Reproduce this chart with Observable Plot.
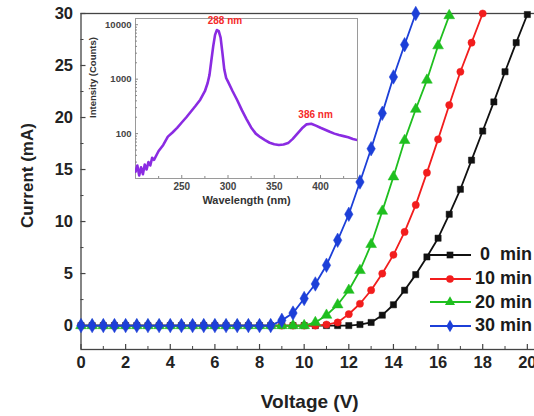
<!DOCTYPE html>
<html><head><meta charset="utf-8">
<script src="https://cdn.jsdelivr.net/npm/d3@7"></script>
<script src="https://cdn.jsdelivr.net/npm/@observablehq/plot@0.6"></script>
<style>
html,body{margin:0;padding:0;overflow:hidden;background:#fff;width:534px;height:416px}
#wrap{position:relative;width:534px;height:416px;overflow:hidden}
#main{position:absolute;left:0;top:0;width:545px}
#inset{position:absolute;left:80px;top:5px;width:285px}
#legend{position:absolute;left:428px;top:243px;font:bold 18px "Liberation Sans",Arial,sans-serif;color:#1a1a1a;width:130px}
.row{display:flex;align-items:center;height:23.7px;white-space:pre}
.row svg{display:block;margin-right:3px;flex:none}
.num{display:inline-block;width:20px;text-align:center}
</style></head><body>
<div id="wrap"><div id="main"></div><div id="inset"></div><div id="legend"></div></div>
<script>
// ---- main I-V data ----
const v0min = [0,0.5,1,1.5,2,2.5,3,3.5,4,4.5,5,5.5,6,6.5,7,7.5,8,8.5,9,9.5,10,10.5,11,11.5,12,12.5,13,13.5,14,14.5,15,15.5,16,16.5,17,17.5,18,18.5,19,19.5,20];
const i0min = [0,0,0,0,0,0,0,0,0,0,0,0,0,0,0,0,0,0,0,0,0,0,0,0,0,0.1,0.3,1.0,2.0,3.4,4.9,6.6,8.4,10.7,13.1,15.9,18.7,21.5,24.4,27.2,29.9];
const v10min = [0,0.5,1,1.5,2,2.5,3,3.5,4,4.5,5,5.5,6,6.5,7,7.5,8,8.5,9,9.5,10,10.5,11,11.5,12,12.5,13,13.5,14,14.5,15,15.5,16,16.5,17,17.5,18];
const i10min = [0,0,0,0,0,0,0,0,0,0,0,0,0,0,0,0,0,0,0,0,0,0,0.1,0.3,1.1,2.1,3.4,5.0,6.8,9.0,11.6,14.7,17.9,21.2,24.4,27.2,30.0];
const v20min = [0,0.5,1,1.5,2,2.5,3,3.5,4,4.5,5,5.5,6,6.5,7,7.5,8,8.5,9,9.5,10,10.5,11,11.5,12,12.5,13,13.5,14,14.5,15,15.5,16,16.5];
const i20min = [0,0,0,0,0,0,0,0,0,0,0,0,0,0,0,0,0,0,0,0,0,0.3,1.0,2.0,3.4,5.3,7.8,11.0,14.3,17.8,20.8,23.6,26.9,29.8];
const v30min = [0,0.5,1,1.5,2,2.5,3,3.5,4,4.5,5,5.5,6,6.5,7,7.5,8,8.5,9,9.5,10,10.5,11,11.5,12,12.5,13,13.5,14,14.5,15];
const i30min = [0,0,0,0,0,0,0,0,0,0,0,0,0,0,0,0,0,0,0.5,1.2,2.6,4.0,5.8,8.2,10.7,13.8,17.0,20.4,23.9,27.0,30.0];

const seriesNums = ["0", "10", "20", "30"];
const seriesUnit = " min";
const seriesColors = ["#111111", "#f21d1d", "#1fbf1f", "#1c3fd8"];
const seriesSymbols = ["square", "circle", "triangle", "diamond"];

const xMajor = [0,2,4,6,8,10,12,14,16,18,20];
const xMinor = [1,3,5,7,9,11,13,15,17,19];
const yMajor = [0,5,10,15,20,25,30];
const yMinor = [2.5,7.5,12.5,17.5,22.5,27.5];

// ---- inset spectrum data ----
const wavelength = [200,202,204,206,208,210,212,214,216,218,220,225,230,235,240,245,250,255,260,265,270,275,278,280,282,284,286,288,290,292,294,296,298,300,305,310,315,320,325,330,335,340,345,350,355,360,365,370,375,380,385,390,395,400,405,410,415,420,425,430,435,440];
const counts = [20,26,17,24,18,27,22,30,26,36,33,48,62,88,105,128,160,200,255,325,420,600,850,1200,2200,4000,6500,8000,7600,5800,3000,1500,1050,900,600,410,270,185,130,100,86,76,68,64,62,63,67,80,100,125,148,152,140,128,118,108,100,94,90,86,80,76];
const peakNm = [288, 386];
const peakCounts = [8000, 152];
const peakText = ["288 nm", "386 nm"];
const insetXMajor = [250,300,350,400];
const insetXMinor = [225,275,325,375,425];
const insetYMajor = [100,1000,10000];
const insetYMinor = [20,30,40,50,60,70,80,90,200,300,400,500,600,700,800,900,2000,3000,4000,5000,6000,7000,8000,9000];

// ---- build main ----
const vs = [v0min, v10min, v20min, v30min];
const is = [i0min, i10min, i20min, i30min];
const table = [];
vs.forEach((v, s) => v.forEach((x, k) => table.push({s, V: x, I: is[s][k]})));

const W = 545, H = 416, ML = 80.5, MR = 7, MT = 13, MB = 67;
const FW = W - ML - MR, FH = H - MT - MB;
const font = "Liberation Sans, Arial, sans-serif";
const axisCol = "#444";

const marks = [
  Plot.frame({stroke: axisCol, strokeWidth: 1.3}),
  Plot.tickX(xMajor, {x: d => d, insetTop: FH - 5, stroke: axisCol, strokeWidth: 1.2}),
  Plot.tickX(xMinor, {x: d => d, insetTop: FH - 3, stroke: axisCol, strokeWidth: 1}),
  Plot.tickY(yMajor, {y: d => d, insetRight: FW - 5, stroke: axisCol, strokeWidth: 1.2}),
  Plot.tickY(yMinor, {y: d => d, insetRight: FW - 3, stroke: axisCol, strokeWidth: 1}),
  Plot.axisX({ticks: xMajor, tickSize: 0, tickPadding: 7, fontSize: 16.5, fontWeight: "bold", fill: "#222", label: null}),
  Plot.axisY({ticks: yMajor, tickSize: 0, tickPadding: 8, fontSize: 16.5, fontWeight: "bold", fill: "#222", label: null}),
  Plot.text(["Voltage (V)"], {text: d => d, frameAnchor: "bottom", textAnchor: "middle", lineAnchor: "middle", dy: 52, fontSize: 19, fontWeight: "bold", fill: "#222"}),
  Plot.text(["Current (mA)"], {text: d => d, frameAnchor: "left", textAnchor: "middle", lineAnchor: "middle", rotate: -90, dx: -53, dy: -6, fontSize: 17, fontWeight: "bold", fill: "#222"})
];
for (let s = 0; s < 4; s++) {
  const d = table.filter(t => t.s === s);
  marks.push(Plot.line(d, {x: "V", y: "I", stroke: seriesColors[s], strokeWidth: 1.8}));
  marks.push(Plot.dot(d, {x: "V", y: "I", fill: seriesColors[s], stroke: seriesColors[s], strokeWidth: 0.5, symbol: () => seriesSymbols[s], r: [3.5, 3.6, 4, 4.4][s]}));
}

const mainPlot = Plot.plot({
  width: W, height: H, marginLeft: ML, marginRight: MR, marginTop: MT, marginBottom: MB,
  style: {fontFamily: font, background: "transparent", overflow: "visible", maxWidth: "none"},
  x: {domain: [0, 20.5]},
  y: {domain: [-2.3, 30]},
  symbol: {type: "identity"},
  marks
});
document.getElementById("main").appendChild(mainPlot);

// ---- inset ----
const spec = wavelength.map((w, k) => ({w, c: counts[k]}));
const peaks = peakNm.map((w, k) => ({w, c: peakCounts[k], t: peakText[k]}));
const IW = 285, IH = 205, IML = 55, IMR = 8, IMT = 13, IMB = 32;
const IFW = IW - IML - IMR, IFH = IH - IMT - IMB;
const inCol = "#888";
const insetPlot = Plot.plot({
  width: IW, height: IH, marginLeft: IML, marginRight: IMR, marginTop: IMT, marginBottom: IMB,
  style: {fontFamily: font, background: "transparent", overflow: "visible", maxWidth: "none"},
  x: {domain: [200, 440]},
  y: {type: "log", domain: [15, 13000]},
  marks: [
    Plot.frame({fill: "white", stroke: "#9a9a9a", strokeWidth: 1}),
    Plot.tickX(insetXMajor, {x: d => d, insetTop: IFH - 3, stroke: inCol}),
    Plot.tickX(insetXMinor, {x: d => d, insetTop: IFH - 2, stroke: inCol}),
    Plot.tickY(insetYMajor, {y: d => d, insetRight: IFW - 3, stroke: inCol}),
    Plot.tickY(insetYMinor, {y: d => d, insetRight: IFW - 2, stroke: inCol}),
    Plot.line(spec, {x: "w", y: "c", stroke: "#8a2be2", strokeWidth: 2.6, clip: true}),
    Plot.text(peaks, {x: "w", y: "c", text: "t", dx: 8, dy: -9, fill: "#f52a2a", fontSize: 10, fontWeight: "bold"}),
    Plot.axisX({ticks: insetXMajor, tickSize: 0, tickPadding: 4, fontSize: 10, fontWeight: "bold", fill: "#444", label: null}),
    Plot.axisY({ticks: insetYMajor, tickSize: 0, tickPadding: 4, fontSize: 9.5, fontWeight: "bold", fill: "#444", tickFormat: d3.format("d"), label: null}),
    Plot.text(["Wavelength (nm)"], {text: d => d, frameAnchor: "bottom", textAnchor: "middle", lineAnchor: "middle", dy: 22, fontSize: 11, fontWeight: "bold", fill: "#333"}),
    Plot.text(["Intensity (Counts)"], {text: d => d, frameAnchor: "left", textAnchor: "middle", lineAnchor: "middle", rotate: -90, dx: -43, dy: -21, fontSize: 9.5, fontWeight: "bold", fill: "#333"})
  ]
});
document.getElementById("inset").appendChild(insetPlot);

// ---- legend ----
const legend = d3.select("#legend");
const symMap = {square: d3.symbolSquare, circle: d3.symbolCircle, triangle: d3.symbolTriangle, diamond: d3.symbolDiamond};
seriesNums.forEach((num, s) => {
  const row = legend.append("div").attr("class", "row");
  const svg = row.append("svg").attr("width", 44).attr("height", 14);
  svg.append("line").attr("x1", 2).attr("x2", 43).attr("y1", 7).attr("y2", 7)
    .attr("stroke", seriesColors[s]).attr("stroke-width", 1.8);
  svg.append("path").attr("transform", "translate(22,7)")
    .attr("d", d3.symbol(symMap[seriesSymbols[s]], Math.PI * 14)())
    .attr("fill", seriesColors[s]);
  row.append("span").attr("class", "num").text(num);
  row.append("span").text(seriesUnit);
});
</script>
</body></html>
